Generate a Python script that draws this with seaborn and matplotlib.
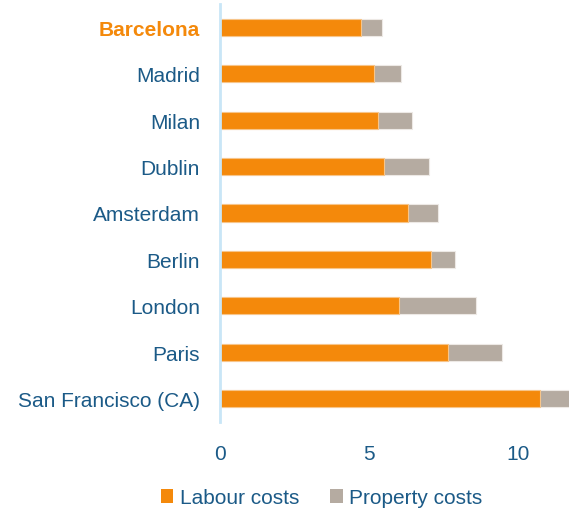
import numpy as np
import matplotlib.pyplot as plt
import pandas as pd
import seaborn as sns
from matplotlib.patches import Patch

cities = ['Barcelona', 'Madrid', 'Milan', 'Dublin', 'Amsterdam', 'Berlin',
          'London', 'Paris', 'San Francisco (CA)']
labour = [4.74, 5.17, 5.31, 5.51, 6.31, 7.09, 6.01, 7.67, 10.74]
property_costs = [0.70, 0.92, 1.14, 1.51, 1.00, 0.79, 2.58, 1.78, 1.30]

orange = '#F4890B'
grey = '#B5ABA1'
text_col = '#1B5A87'

df = pd.DataFrame({'city': cities, 'labour': labour, 'property': property_costs})
df['total'] = df['labour'] + df['property']

sns.set_style('white')
plt.rcParams['font.family'] = ['Liberation Sans', 'DejaVu Sans']

fig = plt.figure(figsize=(5.69, 5.10), dpi=100)
ax = fig.add_axes([0.3858, 0.1706, 0.6142, 0.8196])

# stacked: total drawn first (grey), labour over it (orange)
sns.barplot(data=df, y='city', x='total', color=grey, width=0.37,
            edgecolor='#EDE9E5', linewidth=0.8, saturation=1, ax=ax)
sns.barplot(data=df, y='city', x='labour', color=orange, width=0.37,
            edgecolor='#F7C58A', linewidth=0.8, saturation=1, ax=ax)

ax.set_xlim(0, 11.71)
ax.set_ylim(8.5, -0.5)
ax.set_xticks([0, 5, 10])
ax.set_xlabel('')
ax.set_ylabel('')
for side in ['top', 'right', 'bottom']:
    ax.spines[side].set_visible(False)
ax.spines['left'].set_color('#C9E6F7')
ax.spines['left'].set_linewidth(2)
ax.tick_params(axis='y', length=0, pad=14, labelsize=15, labelcolor=text_col)
ax.tick_params(axis='x', length=0, pad=16, labelsize=15, labelcolor=text_col)

lbl = ax.get_yticklabels()[0]
lbl.set_color(orange)
lbl.set_fontweight('bold')

handles = [Patch(facecolor=orange, edgecolor='none', label='Labour costs'),
           Patch(facecolor=grey, edgecolor='none', label='Property costs')]
leg = fig.legend(handles=handles, loc='center', bbox_to_anchor=(0.565, 0.022),
                 ncol=2, frameon=False, fontsize=15, handlelength=0.6,
                 handleheight=0.6, handletextpad=0.3, columnspacing=1.5)
for t in leg.get_texts():
    t.set_color(text_col)

fig.savefig('out.png', dpi=100)
